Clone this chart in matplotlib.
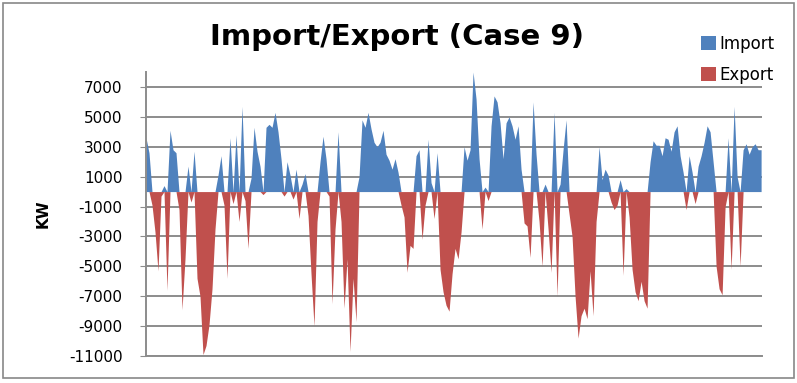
import numpy as np
import matplotlib
matplotlib.use("Agg")
import matplotlib.pyplot as plt
from matplotlib.patches import Rectangle

# net power per period (kW): positive = import, negative = export
net_kw = [
    3600, 2600, -900, -2700, -5300, -300, 400, -6600, 4100, 2800,
    2600, -1200, -7900, -4500, 1700, -700, 2700, -5800, -7000, -10900,
    -10300, -8900, -6500, -2500, 1100, 2400, -900, -5800, 3600, -800,
    3800, -2000, 5700, -600, -3800, 900, 4300, 2700, 1700, -200,
    4300, 4500, 4300, 5300, 4000, 2200, -300, 2000, 1100, -500,
    1500, -1800, 500, 1200, -1600, -5500, -9000, -2000, 2000, 3700,
    2200, -300, -7500, -2500, 4000, -2000, -7800, -4500, -10700, -5800,
    -8700, 1000, 4800, 4300, 5300, 4200, 3300, 3000, 3300, 4100,
    2500, 2100, 1500, 2200, 1300, -900, -1700, -5400, -3600, -3800,
    2400, 2800, -3200, -900, 3500, 600, -1800, 2600, -5200, -6700,
    -7600, -8000, -5500, -3800, -4500, -2700, 3000, 2100, 2800, 8000,
    6200, 2200, -2500, 300, -600, 4400, 6400, 6000, 4600, 2200,
    4600, 5000, 4400, 3500, 4400, 1500, -2100, -2300, -4400, 6000,
    2500, -2000, -5000, 500, -2500, -5400, 5300, -7000, 500, 2800,
    4800, -1500, -3000, -7000, -9800, -8300, -7800, -8500, -5300, -8300,
    -2000, 3000, 800, 1500, 1100, -700, -1200, -900, 800, -5600,
    200, -1700, -5200, -6700, -7300, -6000, -7300, -7800, 2000, 3400,
    3100, 3100, 2400, 3600, 3500, 2700, 4000, 4400, 2400, 1300,
    -1200, 2400, 1300, -800, 1700, 2400, 3300, 4400, 4000, 2000,
    -5000, -6500, -6900, -1000, 3600, -5200, 5700, 1000, -5000, 2800,
    3200, 2500, 3000, 3200, 2800, 2800,
]

series_names = ["Import", "Export"]
series_colors = ["#4F81BD", "#C0504D"]
y_ticks = list(range(-11000, 8000, 2000))

net = np.array(net_kw, dtype=float)
imports = np.clip(net, 0, None)
exports = np.clip(net, None, 0)
x = np.arange(len(net))

fig = plt.figure(figsize=(7.97, 3.83), dpi=100)
ax = fig.add_axes([146 / 797, 1 - 356 / 383, (762 - 146) / 797, (356 - 72) / 383])

h_imp = ax.fill_between(x, 0, imports, color=series_colors[0], lw=0, label=series_names[0])
h_exp = ax.fill_between(x, 0, exports, color=series_colors[1], lw=0, label=series_names[1])

ax.set_xlim(0, len(net) - 0.7)
ax.set_ylim(-11000, 8000)
ax.set_yticks(y_ticks)
ax.set_yticklabels([str(v) for v in y_ticks], fontsize=11)
ax.set_xticks([])
ax.yaxis.grid(True, color="#8c8c8c", lw=1.4)
ax.set_axisbelow(True)
for s in ["top", "right"]:
    ax.spines[s].set_visible(False)
for s in ["left", "bottom"]:
    ax.spines[s].set_color("#8c8c8c")
    ax.spines[s].set_linewidth(1.4)
ax.tick_params(axis="y", length=4, color="#8c8c8c", pad=13)

ax.set_ylabel("KW", fontsize=11, fontweight="bold")
ax.yaxis.set_label_coords(-0.155, 0.5)

fig.text(397 / 797, 1 - 37 / 383, "Import/Export (Case 9)", fontsize=21,
         fontweight="bold", ha="center", va="center")

fig.legend(handles=[h_imp, h_exp], labels=series_names, loc="upper left",
           bbox_to_anchor=(694 / 797, 1 - 28 / 383), frameon=False,
           fontsize=12, handlelength=0.9, handleheight=0.9,
           handletextpad=0.25, labelspacing=0.8, borderaxespad=0)

fig.patches.append(Rectangle((0.004, 0.012), 0.992, 0.98, transform=fig.transFigure,
                             fill=False, edgecolor="#888888", lw=1.2))

fig.savefig("out.png", dpi=100)
